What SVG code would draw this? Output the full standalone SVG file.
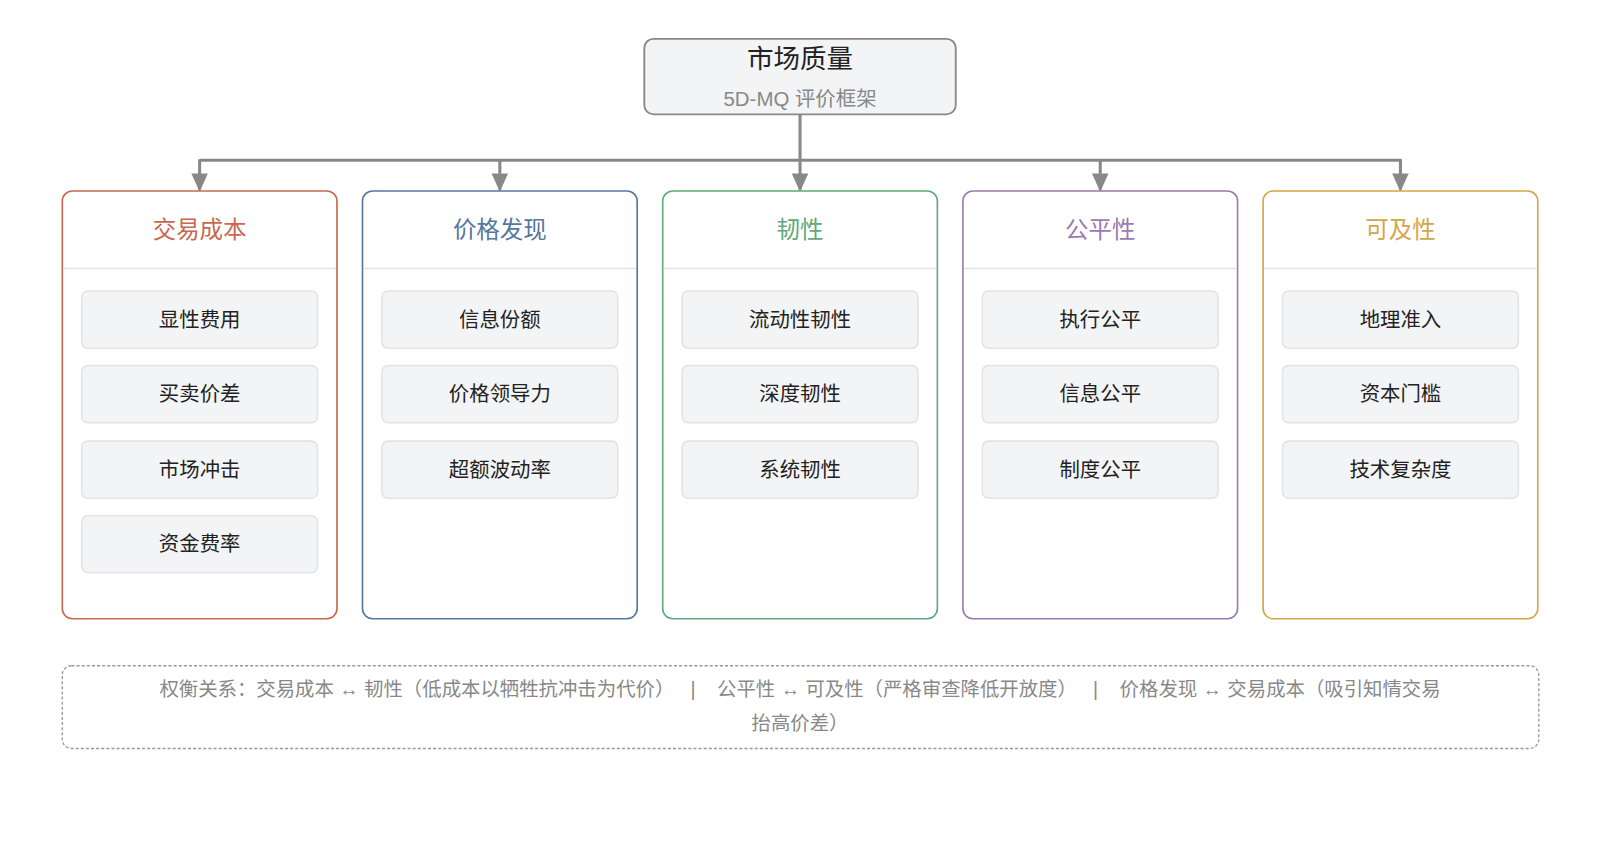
<svg xmlns="http://www.w3.org/2000/svg" width="1600" height="858" viewBox="0 0 1600 858">
<style>
text{font-family:"Liberation Sans","Noto Sans CJK SC",sans-serif;text-anchor:middle}
.col{fill:#fff;stroke-width:1.6}
.div{stroke:#e3e3e3;stroke-width:1.5}
.item{fill:#f3f4f6;stroke:#e2e3e6;stroke-width:1.5}
.it{font-size:20px;fill:#222}
.hd{font-size:23px}
.cn{stroke:#888;stroke-width:3;fill:none}
.nt{font-size:19px;fill:#888;white-space:pre}
</style>
<defs><marker id="ah" viewBox="0 0 10 10" refX="9" refY="5" markerUnits="userSpaceOnUse" markerWidth="18" markerHeight="18" orient="auto"><path d="M0,0.5L10,5L0,9.5z" fill="#888"/></marker></defs>
<rect width="1600" height="858" fill="#fff"/>
<g transform="scale(1.0211)">
<g id="connectors">
<path class="cn" d="M783.5,112V186"  marker-end="url(#ah)"/>
<path class="cn" d="M195.5,157H1372.5"/>
<path class="cn" d="M195.5,156V186" marker-end="url(#ah)"/>
<path class="cn" d="M489.5,156V186" marker-end="url(#ah)"/>
<path class="cn" d="M1077.5,156V186" marker-end="url(#ah)"/>
<path class="cn" d="M1371.5,156V186" marker-end="url(#ah)"/>
</g>
<g id="root">
<rect x="631" y="38" width="305" height="74" rx="9" fill="#f3f4f6" stroke="#888" stroke-width="1.8"/>
<text x="783.5" y="67" font-size="26" fill="#222">市场质量</text>
<text x="783.5" y="104" font-size="20" fill="#888">5D-MQ 评价框架</text>
</g>
<g id="c1">
<rect class="col" x="61" y="187" width="269" height="419" rx="10" stroke="#c8684f"/>
<line class="div" x1="62" y1="263" x2="329" y2="263"/>
<text class="hd" x="195.5" y="233" fill="#c8684f">交易成本</text>
<rect class="item" x="80" y="285" width="231" height="56" rx="6"/><text class="it" x="195.5" y="320">显性费用</text>
<rect class="item" x="80" y="358" width="231" height="56" rx="6"/><text class="it" x="195.5" y="393">买卖价差</text>
<rect class="item" x="80" y="432" width="231" height="56" rx="6"/><text class="it" x="195.5" y="467">市场冲击</text>
<rect class="item" x="80" y="505" width="231" height="56" rx="6"/><text class="it" x="195.5" y="540">资金费率</text>
</g>
<g id="c2">
<rect class="col" x="355" y="187" width="269" height="419" rx="10" stroke="#5577a0"/>
<line class="div" x1="356" y1="263" x2="623" y2="263"/>
<text class="hd" x="489.5" y="233" fill="#5577a0">价格发现</text>
<rect class="item" x="374" y="285" width="231" height="56" rx="6"/><text class="it" x="489.5" y="320">信息份额</text>
<rect class="item" x="374" y="358" width="231" height="56" rx="6"/><text class="it" x="489.5" y="393">价格领导力</text>
<rect class="item" x="374" y="432" width="231" height="56" rx="6"/><text class="it" x="489.5" y="467">超额波动率</text>
</g>
<g id="c3">
<rect class="col" x="649" y="187" width="269" height="419" rx="10" stroke="#5fa97a"/>
<line class="div" x1="650" y1="263" x2="917" y2="263"/>
<text class="hd" x="783.5" y="233" fill="#5fa97a">韧性</text>
<rect class="item" x="668" y="285" width="231" height="56" rx="6"/><text class="it" x="783.5" y="320">流动性韧性</text>
<rect class="item" x="668" y="358" width="231" height="56" rx="6"/><text class="it" x="783.5" y="393">深度韧性</text>
<rect class="item" x="668" y="432" width="231" height="56" rx="6"/><text class="it" x="783.5" y="467">系统韧性</text>
</g>
<g id="c4">
<rect class="col" x="943" y="187" width="269" height="419" rx="10" stroke="#9a7ab0"/>
<line class="div" x1="944" y1="263" x2="1211" y2="263"/>
<text class="hd" x="1077.5" y="233" fill="#9a7ab0">公平性</text>
<rect class="item" x="962" y="285" width="231" height="56" rx="6"/><text class="it" x="1077.5" y="320">执行公平</text>
<rect class="item" x="962" y="358" width="231" height="56" rx="6"/><text class="it" x="1077.5" y="393">信息公平</text>
<rect class="item" x="962" y="432" width="231" height="56" rx="6"/><text class="it" x="1077.5" y="467">制度公平</text>
</g>
<g id="c5">
<rect class="col" x="1237" y="187" width="269" height="419" rx="10" stroke="#d4a64a"/>
<line class="div" x1="1238" y1="263" x2="1505" y2="263"/>
<text class="hd" x="1371.5" y="233" fill="#d4a64a">可及性</text>
<rect class="item" x="1256" y="285" width="231" height="56" rx="6"/><text class="it" x="1371.5" y="320">地理准入</text>
<rect class="item" x="1256" y="358" width="231" height="56" rx="6"/><text class="it" x="1371.5" y="393">资本门槛</text>
<rect class="item" x="1256" y="432" width="231" height="56" rx="6"/><text class="it" x="1371.5" y="467">技术复杂度</text>
</g>
<g id="note">
<rect x="61" y="652" width="1446" height="81" rx="9" fill="#fff" stroke="#999" stroke-width="1.3" stroke-dasharray="3,2"/>
<text class="nt" x="783.5" y="682">权衡关系：交易成本 ↔ 韧性（低成本以牺牲抗冲击为代价）   |    公平性 ↔ 可及性（严格审查降低开放度）   |    价格发现 ↔ 交易成本（吸引知情交易</text>
<text class="nt" x="783.5" y="715">抬高价差）</text>
</g>
</g>
</svg>
